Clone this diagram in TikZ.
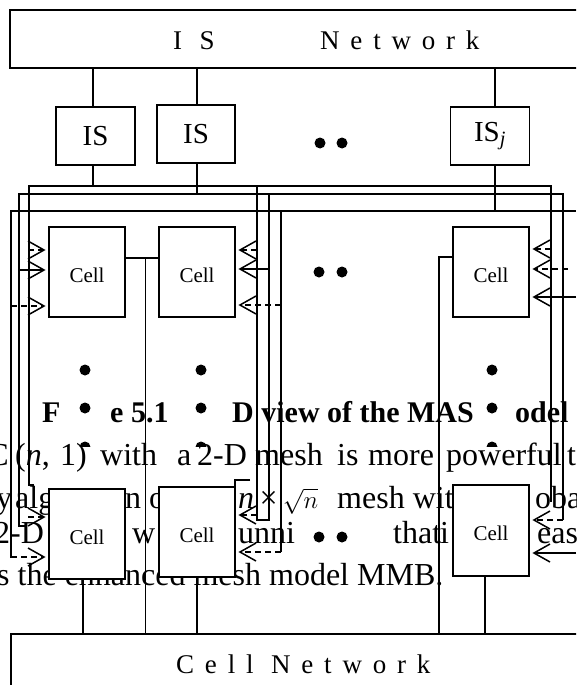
\documentclass[tikz,border=0pt]{standalone}
\usepackage{fontspec}
\setmainfont{Liberation Serif}
\newfontfamily\spacedfont[LetterSpace=40]{Liberation Serif}
\newcommand\chevright[2]{\draw[chev] ({#1-16},{#2-9}) -- (#1,#2) -- ({#1-16},{#2+9});}
\newcommand\chevleft[2]{\draw[chev] ({#1+16},{#2-9}) -- (#1,#2) -- ({#1+16},{#2+9});}
\begin{document}
\begin{tikzpicture}[x=1pt,y=-1pt,
  wire/.style={line width=1.3pt},
  thinwire/.style={line width=0.9pt},
  thickwire/.style={line width=2pt},
  dwire/.style={line width=1.3pt, dash pattern=on 6pt off 4pt},
  chev/.style={line width=1.5pt},
  box/.style={draw, line width=1.5pt, fill=white, inner sep=0pt},
  cellbox/.style={box, minimum width=76pt, minimum height=90pt},
  isbox/.style={box, minimum width=79pt, minimum height=58pt, font=\fontsize{29}{29}\selectfont},
  celltext/.style={inner sep=0pt, font=\fontsize{21}{21}\selectfont},
  body/.style={anchor=base west, inner sep=0pt, font=\fontsize{32}{32}\selectfont},
  capt/.style={anchor=base west, inner sep=0pt, font=\fontsize{30}{30}\selectfont\bfseries},
  nettext/.style={anchor=base west, inner sep=0pt, font=\fontsize{27}{27}\selectfont\spacedfont},
  blob/.style={fill=black, circle, inner sep=0pt, minimum size=11pt},
  ]
\useasboundingbox (0,0) rectangle (576,685);
\clip (0,0) rectangle (576,685);
\fill[white] (0,0) rectangle (576,685);

% third row of column dots, partly hidden
\node[blob] (v13) at (85,447) {};
\node[blob] (v23) at (201,447) {};
\node[blob] (v33) at (492,447) {};
\fill[white] (0,447) rectangle (576,472);

% caption fragments
\node[capt] (cp1) at (42,422) {F};
\node[capt] (cp2) at (110,422) {e 5.1};
\node[capt] (cp3) at (232,422) {D view of the MAS};
\node[capt] (cp4) at (515,422) {odel};

% body text line 1
\node[body, anchor=base east] (a0) at (9,465) {C};
\node[body] (a1) at (15,465) {(\textit{n},};
\node[body] (a2) at (60,465) {1)};
\node[body] (a3) at (100,465) {with};
\node[body] (a4) at (177,465) {a};
\node[body] (a5) at (197,465) {2-D};
\node[body] (a6) at (255,465) {mesh};
\node[body] (a7) at (337,465) {is};
\node[body] (a8) at (368,465) {more};
\node[body] (a9) at (446,465) {powerful};
\node[body] (a10) at (567,465) {t};
% line 2
\node[body] (b1) at (-4,508) {y};
\node[body] (b2) at (15,508) {alg};
\node[body] (b3) at (125,508) {n o};
\node[body] (b4) at (238,508) {\textit{n}\,×\,$\sqrt{n}$};
\node[body] (b5) at (337,508) {mesh wit};
\node[body] (b6) at (535,508) {oba};
% line 3
\node[body] (c1t) at (-6,543) {2-D};
\node[body] (c2t) at (132,543) {w};
\node[body] (c3t) at (238,543) {unni};
\node[body] (c4t) at (393,543) {that};
\node[body] (c5t) at (440,543) {i};
\node[body] (c6t) at (537,543) {east};
% line 4
\node[body] (d1t) at (-3,585) {s the enhanced mesh model MMB.};

% networks
\node[box, minimum width=590pt, minimum height=58pt] (isnet) at (305,39) {};
\node[nettext] (isnetA) at (173,50) {I S};
\node[nettext] (isnetB) at (320,50) {Network};
\node[box, minimum width=589pt, minimum height=90pt] (cellnet) at (305.5,679) {};
\node[nettext] (cellnetT) at (176,673) {Cell Network};

% IS boxes
\node[isbox] (is1) at (95.5,136) {IS};
\node[isbox, minimum width=78pt] (is2) at (196,134) {IS};
\node[isbox] (isj) at (490,136) {IS\textsubscript{\textit{j}}};
\node[blob] (h11) at (320,143) {};
\node[blob] (h12) at (342,143) {};

% wires from IS network
\draw[wire] (93,68) -- (93,107);
\draw[wire] (197,68) -- (197,105);
\draw[wire] (495,68) -- (495,107);
\draw[wire] (93,165) -- (93,186);
\draw[wire] (197,163) -- (197,194);
\draw[wire] (495,165) -- (495,211);

% buses
\draw[thickwire] (34,485) -- (29,485) -- (29,186) -- (551,186) -- (551,502);
\draw[wire] (25,526) -- (19,526) -- (19,194) -- (563,194) -- (563,520);
\draw[wire] (11,558) -- (11,211) -- (576,211);
\draw[wire] (257,186) -- (257,520) -- (269,520) -- (269,194);
\draw[wire] (281,211) -- (281,552);

% cell links
\draw[wire] (125,258) -- (159,258);
\draw[thinwire] (145,258) -- (145,634);
\draw[wire] (453,257) -- (439,257) -- (439,634);
\draw[wire] (83,579) -- (83,634);
\draw[wire] (197,577) -- (197,634);
\draw[wire] (485,576) -- (485,634);
\draw[wire] (250,480) -- (235,480) -- (235,487);

% arrow feeds
\draw[dwire] (28,250) -- (44,250);
\draw[wire] (19,270) -- (44,270);
\draw[dwire] (11,306) -- (44,306);
\draw[dwire] (257,250) -- (240,250);
\draw[wire] (269,269) -- (240,269);
\draw[dwire] (281,305) -- (240,305);
\draw[dwire] (551,249) -- (534,249);
\draw[dwire] (568,269) -- (534,269);
\draw[wire] (576,297) -- (534,297);
\draw[dwire] (28,517) -- (44,517);
\draw[dwire] (11,557) -- (44,557);
\draw[dwire] (257,515) -- (240,515);
\draw[dwire] (281,552) -- (240,552);
\draw[dwire] (563,520) -- (534,520);
\draw[wire] (576,553) -- (534,553);

% chevrons
\chevright{44}{250}\chevright{44}{270}\chevright{44}{306}
\chevleft{240}{250}\chevleft{240}{269}\chevleft{240}{305}
\chevleft{534}{249}\chevleft{534}{269}\chevleft{534}{297}
\chevright{44}{517}\chevright{44}{557}
\chevleft{240}{515}\chevleft{240}{552}
\chevleft{534}{520}\chevleft{534}{553}

% cells
\node[cellbox] (c1) at (87,272) {};
\node[cellbox] (c2) at (197,272) {};
\node[cellbox] (c3) at (491,272) {};
\node[cellbox] (c4) at (87,534) {};
\node[cellbox] (c5) at (197,532) {};
\node[cellbox, minimum height=91pt] (c6) at (491,530.5) {};
\foreach \c in {c1,c2,c3,c4,c5,c6}
  \node[celltext] (\c-l) at ([yshift=-3pt]\c.center) {Cell};

% dots
\node[blob] (h21) at (319,272) {};
\node[blob] (h22) at (342,272) {};
\node[blob] (h31) at (319,537) {};
\node[blob] (h32) at (342,537) {};
\node[blob] (v11) at (85,370) {};
\node[blob] (v12) at (85,408) {};
\node[blob] (v21) at (201,370) {};
\node[blob] (v22) at (201,408) {};
\node[blob] (v31) at (492,370) {};
\node[blob] (v32) at (492,408) {};
\end{tikzpicture}
\end{document}
